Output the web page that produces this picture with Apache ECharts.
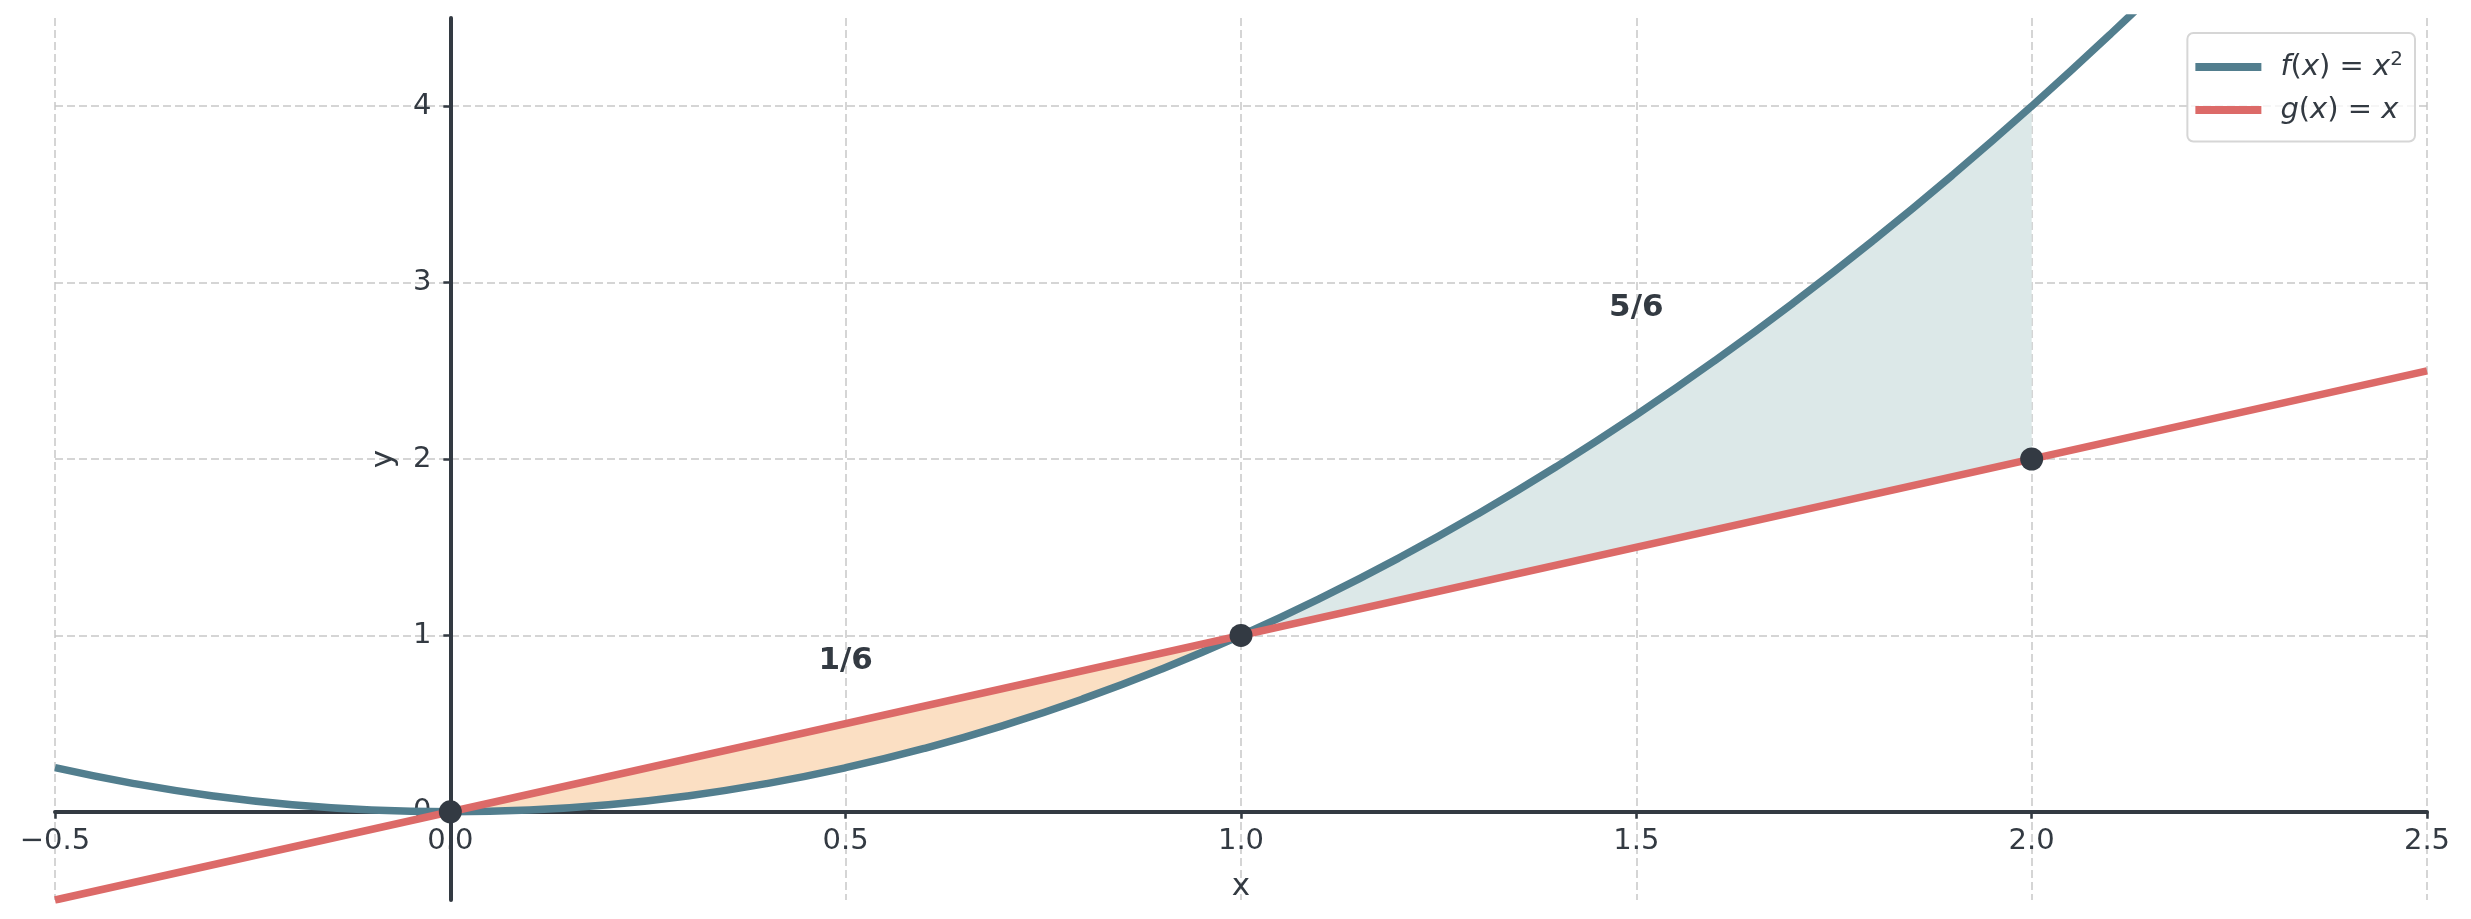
<!DOCTYPE html>
<html>
<head>
<meta charset="utf-8">
<script src="https://cdn.jsdelivr.net/npm/echarts@6/dist/echarts.min.js"></script>
<style>
  html, body { margin: 0; padding: 0; background: #fff; }
  #chart { width: 2471px; height: 919px; }
</style>
</head>
<body>
<div id="chart"></div>
<script>
// f(x) = x^2 sampled along x
const xs = [-0.5, -0.4, -0.3, -0.2, -0.1, 0, 0.1, 0.2, 0.3, 0.4, 0.5, 0.6, 0.7, 0.8, 0.9, 1,
  1.1, 1.2, 1.3, 1.4, 1.5, 1.6, 1.7, 1.8, 1.9, 2, 2.1, 2.2];
const fVals = [0.25, 0.16, 0.09, 0.04, 0.01, 0, 0.01, 0.04, 0.09, 0.16, 0.25, 0.36, 0.49, 0.64, 0.81, 1,
  1.21, 1.44, 1.69, 1.96, 2.25, 2.56, 2.89, 3.24, 3.61, 4, 4.41, 4.84];
// g(x) = x
const gXs = [-0.5, 2.5];
const gVals = [-0.5, 2.5];
// intersection / end points
const dotX = [0, 1, 2];
const dotY = [0, 1, 2];
// area annotations
const annX = [0.5, 1.5];
const annY = [0.8, 2.8];
const annText = ["1/6", "5/6"];
const yTicks = [0, 1, 2, 3, 4];

const xMin = -0.5, xMax = 2.5, yMin = -0.5, yMax = 4.5;
const W = 2471, H = 919;
const G = { left: 55, right: 44, top: 18, bottom: 19 };

const fName = "f(x) = x²";
const gName = "g(x) = x";
const dark = "#333a42";
const font = "DejaVu Sans";

// spines sit on the zero lines (matplotlib "centered" spines)
const gw = W - G.left - G.right;
const gh = H - G.top - G.bottom;
const xAxisOffset = -gh * (0 - yMin) / (yMax - yMin);
const yAxisOffset = -gw * (0 - xMin) / (xMax - xMin);

const fPts = xs.map((x, i) => [x, fVals[i]]);
// region between g (top) and f (bottom) on [0, 1]; g is straight so the closing edge follows it
const regionA = fPts.filter((p) => p[0] >= 0 && p[0] <= 1);
// region between f (top) and g (bottom) on [1, 2]
const regionB = fPts.filter((p) => p[0] >= 1 && p[0] <= 2).concat([[dotX[2], dotY[2]]]);

function fillSeries(points, color) {
  return {
    type: "custom",
    data: points,
    z: 1,
    silent: true,
    renderItem: (params, api) => {
      if (params.dataIndex !== 0) return null;
      return {
        type: "polygon",
        shape: { points: points.map((p) => api.coord(p)) },
        style: { fill: color }
      };
    }
  };
}

const chart = echarts.init(document.getElementById("chart"));
chart.setOption({
  animation: false,
  grid: { ...G, containLabel: false, outerBoundsMode: "none" },
  legend: {
    data: [fName, gName],
    orient: "vertical",
    right: 56,
    top: 33,
    icon: "rect",
    itemWidth: 66,
    itemHeight: 8,
    itemGap: 14,
    padding: [17, 12, 17, 8],
    backgroundColor: "rgba(255,255,255,0.8)",
    borderColor: "#d6d6d6",
    borderWidth: 2,
    borderRadius: 6,
    formatter: (name) =>
      name === fName
        ? "{i|f}{r|(}{i|x}{r|) = }{i|x}{s|2}"
        : "{i|g}{r|(}{i|x}{r|) = }{i|x}",
    textStyle: {
      padding: [0, 0, 0, 14],
      rich: {
        i: { fontStyle: "italic", fontSize: 29, lineHeight: 34, fontFamily: font, color: dark },
        r: { fontSize: 29, lineHeight: 34, fontFamily: font, color: dark },
        s: { fontSize: 20, lineHeight: 34, verticalAlign: "top", fontFamily: font, color: dark }
      }
    }
  },
  xAxis: {
    type: "value",
    min: xMin,
    max: xMax,
    interval: 0.5,
    position: "bottom",
    offset: xAxisOffset,
    name: "x",
    nameLocation: "middle",
    nameGap: 60,
    nameTextStyle: { fontSize: 31, fontFamily: font, color: dark },
    axisLine: { onZero: false, lineStyle: { color: dark, width: 4 } },
    axisTick: { show: true, length: 7, lineStyle: { color: dark, width: 2.5 } },
    axisLabel: {
      fontSize: 29,
      fontFamily: font,
      color: dark,
      margin: 15,
      formatter: (v) => v.toFixed(1).replace("-", "\u2212")
    },
    splitLine: { show: true, lineStyle: { color: "#c8c8c8", width: 1.5, type: [8, 4] } }
  },
  yAxis: {
    type: "value",
    min: yMin,
    max: yMax,
    position: "left",
    offset: yAxisOffset,
    name: "y",
    nameLocation: "middle",
    nameRotate: 90,
    nameGap: 51,
    nameTextStyle: { fontSize: 31, fontFamily: font, color: dark },
    axisLine: { onZero: false, lineStyle: { color: dark, width: 4 } },
    axisTick: { show: true, length: 7, customValues: yTicks, lineStyle: { color: dark, width: 2.5 } },
    axisLabel: {
      fontSize: 29,
      fontFamily: font,
      color: dark,
      margin: 19,
      customValues: yTicks,
      formatter: (v) => String(v)
    },
    splitLine: { show: true, lineStyle: { color: "#c8c8c8", width: 1.5, type: [8, 4] } }
  },
  series: [
    fillSeries(regionA, "#fbdfc3"),
    fillSeries(regionB, "#dce8e8"),
    {
      name: fName,
      type: "line",
      data: fPts,
      color: "#527e8e",
      symbol: "none",
      smooth: true,
      lineStyle: { width: 7.5, color: "#527e8e" },
      z: 3
    },
    {
      name: gName,
      type: "line",
      data: gXs.map((x, i) => [x, gVals[i]]),
      color: "#dc6a68",
      symbol: "none",
      lineStyle: { width: 7.5, color: "#dc6a68" },
      z: 4
    },
    {
      type: "scatter",
      data: dotX.map((x, i) => [x, dotY[i]]),
      symbolSize: 23,
      itemStyle: { color: "#333a43", opacity: 1 },
      z: 6
    },
    {
      type: "scatter",
      data: annX.map((x, i) => [x, annY[i]]),
      symbolSize: 0,
      silent: true,
      itemStyle: { opacity: 1 },
      z: 7,
      label: {
        show: true,
        position: "top",
        distance: 0,
        offset: [0, 6],
        opacity: 1,
        formatter: (p) => annText[p.dataIndex],
        fontSize: 31,
        fontWeight: "bold",
        fontFamily: font,
        color: dark
      }
    }
  ]
});
</script>
</body>
</html>
